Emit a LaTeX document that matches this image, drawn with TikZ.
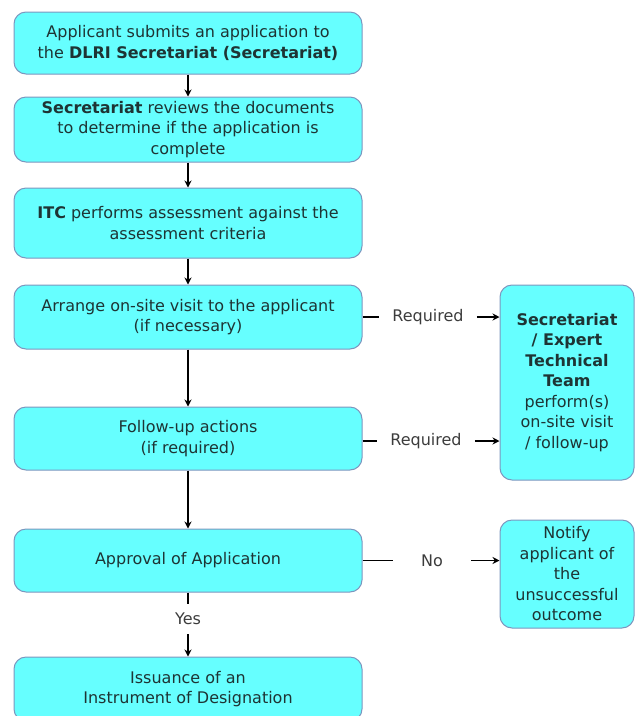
\documentclass[tikz,border=0pt]{standalone}
\usepackage{fontspec}
\setmainfont{DejaVu Sans}
\usetikzlibrary{arrows.meta}
\definecolor{boxfill}{RGB}{102,255,255}
\definecolor{boxline}{RGB}{125,150,190}
\definecolor{boxtext}{RGB}{30,52,52}
\definecolor{lbltext}{RGB}{60,60,60}
\begin{document}
\begin{tikzpicture}[x=1pt, y=-1pt,
    every node/.style = {align=center, font=\fontsize{16}{20.5}\selectfont},
    stepbox/.style = {draw=boxline, line width=1pt, fill=boxfill, text=boxtext,
      rounded corners=12pt, minimum width=348pt, inner sep=0pt},
    sidebox/.style = {stepbox, minimum width=134pt},
    lbl/.style = {text=lbltext, inner sep=13pt},
    flow/.style = {line width=1.3pt, -{Stealth[length=7pt, width=7pt]}},
    link/.style = {line width=1.3pt}]
  \useasboundingbox (0,0) rectangle (636,716);

  \node (submit) at (188,43) [stepbox, minimum height=62pt]
    {Applicant submits an application to\\the \textbf{DLRI Secretariat (Secretariat)}};
  \node (review) at (188,129.5) [stepbox, minimum height=65pt]
    {\textbf{Secretariat} reviews the documents\\to determine if the application is\\complete};
  \node (assess) at (188,223) [stepbox, minimum height=70pt]
    {\textbf{ITC} performs assessment against the\\assessment criteria};
  \node (visit) at (188,317) [stepbox, minimum height=64pt]
    {Arrange on-site visit to the applicant\\(if necessary)};
  \node (follow) at (188,438.5) [stepbox, minimum height=63pt]
    {Follow-up actions\\(if required)};
  \node (approve) at (188,560.5) [stepbox, minimum height=63pt]
    {Approval of Application};
  \node (issue) at (188,689) [stepbox, minimum height=64pt]
    {Issuance of an\\Instrument of Designation};

  \node (team) at (567,382.5) [sidebox, minimum height=195pt]
    {\textbf{Secretariat}\\\textbf{/ Expert}\\\textbf{Technical}\\\textbf{Team}\\perform(s)\\on-site visit\\/ follow-up};
  \node (notify) at (567,574) [sidebox, minimum height=108pt]
    {Notify\\applicant of\\the\\unsuccessful\\outcome};

  \node (req1) at (428,317) [lbl] {Required};
  \node (req2) at (426,441) [lbl] {Required};
  \node (no) at (432,560.5) [lbl, inner xsep=28pt] {No};
  \node (yes) at (188,619) [lbl, inner sep=9pt] {Yes};

  \draw[flow] (submit) -- (review);
  \draw[flow] (review) -- (assess);
  \draw[flow] (assess) -- (visit);
  \draw[flow] (visit) -- (follow);
  \draw[flow] (follow) -- (approve);
  \draw[link] (approve) -- (yes);
  \draw[flow] (yes) -- (issue);

  \draw[link] (visit.east) -- (req1.west);
  \draw[flow] (req1.east) -- (team.west |- req1);
  \draw[link] (follow.east |- req2) -- (req2.west);
  \draw[flow] (req2.east) -- (team.west |- req2);
  \draw[link] (approve.east) -- (no.west);
  \draw[flow] (no.east) -- (notify.west |- no);
\end{tikzpicture}
\end{document}
